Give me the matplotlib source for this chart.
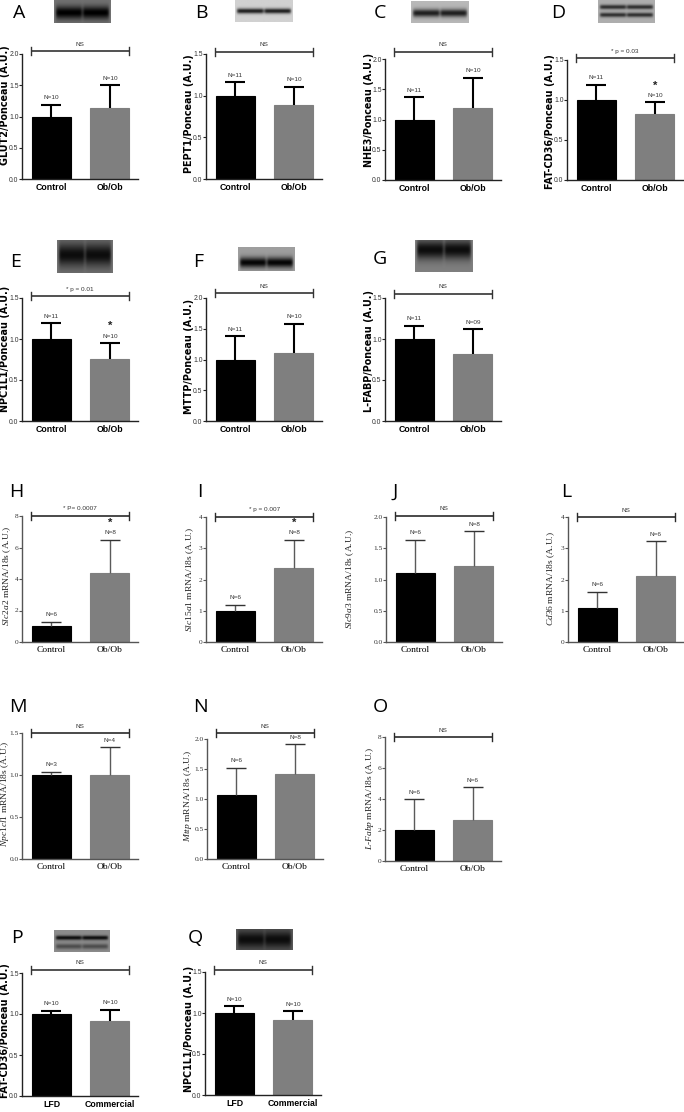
import matplotlib
matplotlib.use('Agg')
import matplotlib.pyplot as plt
import numpy as np

plt.rcParams['mathtext.fontset'] = 'custom'
plt.rcParams['mathtext.it'] = 'Liberation Serif:italic'
plt.rcParams['mathtext.rm'] = 'Liberation Serif'

# ---------------- data ----------------
groups_ob = ['Control', 'Ob/Ob']
groups_diet = ['LFD', 'Commercial']

glut2_mean = [1.00, 1.14];  glut2_err = [0.19, 0.36];  glut2_n = ['10', '10']
pept1_mean = [1.00, 0.89];  pept1_err = [0.16, 0.22];  pept1_n = ['11', '10']
nhe3_mean = [1.00, 1.19];   nhe3_err = [0.37, 0.50];   nhe3_n = ['11', '10']
cd36_mean = [1.00, 0.83];   cd36_err = [0.19, 0.14];   cd36_n = ['11', '10']
npc_mean = [1.00, 0.76];    npc_err = [0.19, 0.19];    npc_n = ['11', '10']
mttp_mean = [1.00, 1.11];   mttp_err = [0.38, 0.47];   mttp_n = ['11', '10']
lfabp_mean = [1.00, 0.82];  lfabp_err = [0.16, 0.30];  lfabp_n = ['11', '09']

slc2a2_mean = [1.00, 4.38]; slc2a2_err = [0.27, 2.10]; slc2a2_n = ['6', '8']
slc15a1_mean = [1.00, 2.38]; slc15a1_err = [0.20, 0.90]; slc15a1_n = ['6', '8']
slc9a3_mean = [1.11, 1.22]; slc9a3_err = [0.53, 0.55]; slc9a3_n = ['6', '8']
cd36m_mean = [1.10, 2.12];  cd36m_err = [0.50, 1.10];  cd36m_n = ['6', '6']
npc1l1m_mean = [1.00, 1.00]; npc1l1m_err = [0.04, 0.33]; npc1l1m_n = ['3', '4']
mttpm_mean = [1.07, 1.41];  mttpm_err = [0.45, 0.50];  mttpm_n = ['6', '8']
lfabpm_mean = [2.03, 2.65]; lfabpm_err = [1.94, 2.12]; lfabpm_n = ['6', '6']

cd36d_mean = [1.00, 0.91];  cd36d_err = [0.04, 0.14];  cd36d_n = ['10', '10']
npcd_mean = [1.00, 0.92];   npcd_err = [0.08, 0.10];   npcd_n = ['10', '10']

# ---------------- figure ----------------
W, H = 684, 1112
fig = plt.figure(figsize=(W / 100, H / 100), dpi=100)
fig.patch.set_facecolor('white')

NARROW = ['Liberation Sans Narrow', 'Liberation Sans', 'DejaVu Sans']
SERIF = ['Liberation Serif', 'DejaVu Serif']
SANS = ['Liberation Sans', 'DejaVu Sans']
WIDE = ['DejaVu Sans']
LETTER = ['Open Sans', 'Noto Sans', 'DejaVu Sans']

XSCALE = 58.5  # pixels per category unit


def fx(x):
    return x / W


def fy(y):
    return 1 - y / H


renderer = fig.canvas.get_renderer()


def fit_vertical(t, target, max_size):
    bb = t.get_window_extent(renderer)
    t.set_fontsize(min(max_size, t.get_fontsize() * target / bb.height))


def blot(x0, y0, x1, y1, bg, bands):
    bax = fig.add_axes([fx(x0), fy(y1), (x1 - x0) / W, (y1 - y0) / H])
    yy = np.linspace(0, 1, 50)[:, None]
    xx = np.linspace(0, 1, 100)[None, :]
    lane = (1 - 0.35 * np.exp(-((xx - 0.5) / 0.03) ** 2)) \
        * (1 - np.exp(-((xx - 0.0) / 0.04) ** 2)) * (1 - np.exp(-((xx - 1.0) / 0.04) ** 2))
    img = np.full((50, 100), bg, dtype=float)
    for c, w, d in bands:
        img = img - d * np.exp(-((yy - c) / w) ** 2) * lane
    img = np.clip(img, 0, 1)
    bax.imshow(img, cmap='gray', vmin=0, vmax=1, aspect='auto', interpolation='bilinear')
    bax.set_xticks([]); bax.set_yticks([])
    for s in bax.spines.values():
        s.set_visible(False)


def panel(spine_x, top_px, base_px, ymax, ystep, yfmt, means, errs, ns, cats,
          ylabel, ylab_x, ylab_y0, ylab_y1, kind, sig, star, br_off,
          letter, letter_xy):
    ax = fig.add_axes([fx(spine_x), fy(base_px), 116 / W, (base_px - top_px) / H])
    ax.set_xlim(-0.504, 1.479)
    ax.set_ylim(0, ymax)
    ppu = (base_px - top_px) / ymax

    def du(px):
        return px / ppu

    protein = kind == 'protein'
    spine_col = '#222222' if protein else '#555555'
    err_col = '#000000' if protein else '#5a5a5a'
    cap_col = '#000000' if protein else '#333333'
    lw_err = 1.5 if protein else 1.0
    cols = ['#000000', '#7f7f7f']
    ax.bar([0, 1], means, width=0.667, color=cols, edgecolor=cols, linewidth=0.8, zorder=2)
    cap_half = 10 / XSCALE
    for i in range(2):
        top = means[i] + errs[i]
        ax.plot([i, i], [means[i], top], color=err_col, lw=lw_err, zorder=3,
                solid_capstyle='butt', clip_on=False)
        ax.plot([i - cap_half, i + cap_half], [top, top], color=cap_col, lw=lw_err,
                zorder=3, solid_capstyle='butt', clip_on=False)
        ax.text(i, top + du(7), 'N=' + ns[i], ha='center', va='center',
                fontsize=4.6, family=NARROW, color='#333333', clip_on=False)
    if star:
        ax.text(1, means[1] + errs[1] + du(17), '*', ha='center', va='center',
                fontsize=8, family=SANS, weight='bold', color='#222222')

    yb = ymax + du(br_off)
    bcol = '#333333' if protein else '#2a2a2a'
    ax.plot([-0.35, 1.33], [yb, yb], color=bcol, lw=1.2, clip_on=False, solid_capstyle='butt')
    for xe in (-0.35, 1.33):
        ax.plot([xe, xe], [yb - du(4), yb + du(4)], color=bcol, lw=1.0, clip_on=False)
    ax.text(0.49, yb + du(7), sig, ha='center', va='center', fontsize=4.6,
            family=NARROW, color='#333333', clip_on=False)

    for s in ['top', 'right']:
        ax.spines[s].set_visible(False)
    for s in ['left', 'bottom']:
        ax.spines[s].set_color(spine_col)
        ax.spines[s].set_linewidth(1.0)
    ticks = np.arange(0, ymax + 1e-9, ystep)
    ax.set_yticks(ticks)
    ax.set_yticklabels([yfmt.format(t) for t in ticks])
    ax.set_xticks([0, 1])
    ax.set_xticklabels(cats)
    ax.tick_params(axis='x', length=0, pad=3.2)
    ax.tick_params(axis='y', length=2.0, width=0.8, pad=0.5, color=spine_col)
    if protein:
        for lab in ax.get_yticklabels():
            lab.set_family(NARROW); lab.set_fontsize(4.9); lab.set_color('#333333')
        for lab in ax.get_xticklabels():
            lab.set_family(NARROW); lab.set_fontsize(6.3); lab.set_weight('bold')
        t = fig.text(fx(ylab_x), fy((ylab_y0 + ylab_y1) / 2), ylabel, rotation=90,
                     ha='center', va='center', fontsize=7, family=WIDE, weight='bold')
        fit_vertical(t, ylab_y1 - ylab_y0, 6.9)
    else:
        for lab in ax.get_yticklabels():
            lab.set_family(SERIF); lab.set_fontsize(5.3); lab.set_color('#333333')
        for lab in ax.get_xticklabels():
            lab.set_family(SERIF); lab.set_fontsize(6.8)
        t = fig.text(fx(ylab_x), fy((ylab_y0 + ylab_y1) / 2), ylabel, rotation=90,
                     ha='center', va='center', fontsize=7, family=SERIF, color='#222222')
        fit_vertical(t, ylab_y1 - ylab_y0, 6.8)
    fig.text(fx(letter_xy[0]), fy(letter_xy[1]), letter, ha='center', va='center',
             fontsize=14, family=LETTER)
    return ax


# ---- row 1 (protein) ----
panel(22, 54, 179, 2.0, 0.5, '{:.1f}', glut2_mean, glut2_err, glut2_n, groups_ob,
      'GLUT2/Ponceau (A.U.)', 5.5, 32, 178, 'protein', 'NS', False, 3, 'A', (19, 13))
panel(206, 54, 179, 1.5, 0.5, '{:.1f}', pept1_mean, pept1_err, pept1_n, groups_ob,
      'PEPT1/Ponceau (A.U.)', 189, 50, 178, 'protein', 'NS', False, 2, 'B', (201, 13))
panel(385, 59, 180, 2.0, 0.5, '{:.1f}', nhe3_mean, nhe3_err, nhe3_n, groups_ob,
      'NHE3/Ponceau (A.U.)', 368.5, 42, 177, 'protein', 'NS', False, 7, 'C', (380, 13))
panel(567, 60, 180, 1.5, 0.5, '{:.1f}', cd36_mean, cd36_err, cd36_n, groups_ob,
      'FAT-CD36/Ponceau (A.U.)', 550, 49, 195, 'protein', '* p = 0.03', True, 2, 'D', (558, 13))

# ---- row 2 (protein) ----
panel(22, 298, 421, 1.5, 0.5, '{:.1f}', npc_mean, npc_err, npc_n, groups_ob,
      'NPC1L1/Ponceau (A.U.)', 5.5, 275, 423, 'protein', '* p = 0.01', True, 2, 'E', (16, 262))
panel(206, 298, 421, 2.0, 0.5, '{:.1f}', mttp_mean, mttp_err, mttp_n, groups_ob,
      'MTTP/Ponceau (A.U.)', 189, 295, 418, 'protein', 'NS', False, 5, 'F', (198, 262))
panel(385, 298, 421, 1.5, 0.5, '{:.1f}', lfabp_mean, lfabp_err, lfabp_n, groups_ob,
      'L-FABP/Ponceau (A.U.)', 368.5, 278, 423, 'protein', 'NS', False, 4, 'G', (380, 259))

# ---- row 3 (mRNA) ----
panel(22, 516, 642, 8, 2, '{:.0f}', slc2a2_mean, slc2a2_err, slc2a2_n, groups_ob,
      r'$\mathit{Slc2a2}$ mRNA/18s (A.U.)', 7, 512, 640, 'mrna', '* P= 0.0007', True, 0, 'H', (16, 492))
panel(206, 517, 642, 4, 1, '{:.0f}', slc15a1_mean, slc15a1_err, slc15a1_n, groups_ob,
      r'$\mathit{Slc15a1}$ mRNA/18s (A.U.)', 190, 517, 642, 'mrna', '* p = 0.007', True, 0, 'I', (200, 492))
panel(386, 517, 642, 2.0, 0.5, '{:.1f}', slc9a3_mean, slc9a3_err, slc9a3_n, groups_ob,
      r'$\mathit{Slc9a3}$ mRNA/18s (A.U.)', 350, 518, 640, 'mrna', 'NS', False, 1, 'J', (395, 492))
panel(568, 517, 642, 4, 1, '{:.0f}', cd36m_mean, cd36m_err, cd36m_n, groups_ob,
      r'$\mathit{Cd36}$ mRNA/18s (A.U.)', 551, 518, 640, 'mrna', 'NS', False, 0, 'L', (566, 492))

# ---- row 4 (mRNA) ----
panel(22, 733, 859, 1.5, 0.5, '{:.1f}', npc1l1m_mean, npc1l1m_err, npc1l1m_n, groups_ob,
      r'$\mathit{Npc1cl1}$ mRNA/18s (A.U.)', 5, 730, 858, 'mrna', 'NS', False, 0, 'M', (18, 707))
panel(207, 739, 859, 2.0, 0.5, '{:.1f}', mttpm_mean, mttpm_err, mttpm_n, groups_ob,
      r'$\mathit{Mttp}$ mRNA/18s (A.U.)', 188, 740, 852, 'mrna', 'NS', False, 6, 'N', (200, 707))
panel(385, 737, 861, 8, 2, '{:.0f}', lfabpm_mean, lfabpm_err, lfabpm_n, groups_ob,
      r'$\mathit{L}$-$\mathit{Fabp}$ mRNA/18s (A.U.)', 370, 737, 861, 'mrna', 'NS', False, 0, 'O', (380, 707))

# ---- row 5 (diet, protein) ----
panel(22, 973, 1096, 1.5, 0.5, '{:.1f}', cd36d_mean, cd36d_err, cd36d_n, groups_diet,
      'FAT-CD36/Ponceau (A.U.)', 5.5, 963, 1098, 'protein', 'NS', False, 3, 'P', (17, 938))
panel(205, 972, 1095, 1.5, 0.5, '{:.1f}', npcd_mean, npcd_err, npcd_n, groups_diet,
      'NPC1L1/Ponceau (A.U.)', 188.5, 963, 1095, 'protein', 'NS', False, 2, 'Q', (195, 938))

# ---- blot images (decorative) ----
blot(54, 0, 111, 23, 0.45, [(0.55, 0.28, 0.45)])
blot(235, 0, 293, 22, 0.82, [(0.5, 0.12, 0.7)])
blot(411, 1, 469, 23, 0.72, [(0.55, 0.18, 0.6)])
blot(598, 0, 655, 23, 0.68, [(0.3, 0.1, 0.5), (0.65, 0.1, 0.5)])
blot(57, 240, 113, 273, 0.45, [(0.45, 0.35, 0.4)])
blot(238, 247, 295, 271, 0.62, [(0.65, 0.22, 0.6)])
blot(415, 240, 473, 272, 0.5, [(0.3, 0.3, 0.45)])
blot(54, 930, 110, 952, 0.55, [(0.35, 0.1, 0.5), (0.75, 0.12, 0.25)])
blot(236, 929, 293, 950, 0.35, [(0.5, 0.4, 0.3)])

fig.savefig('out.png', dpi=100, facecolor='white')
